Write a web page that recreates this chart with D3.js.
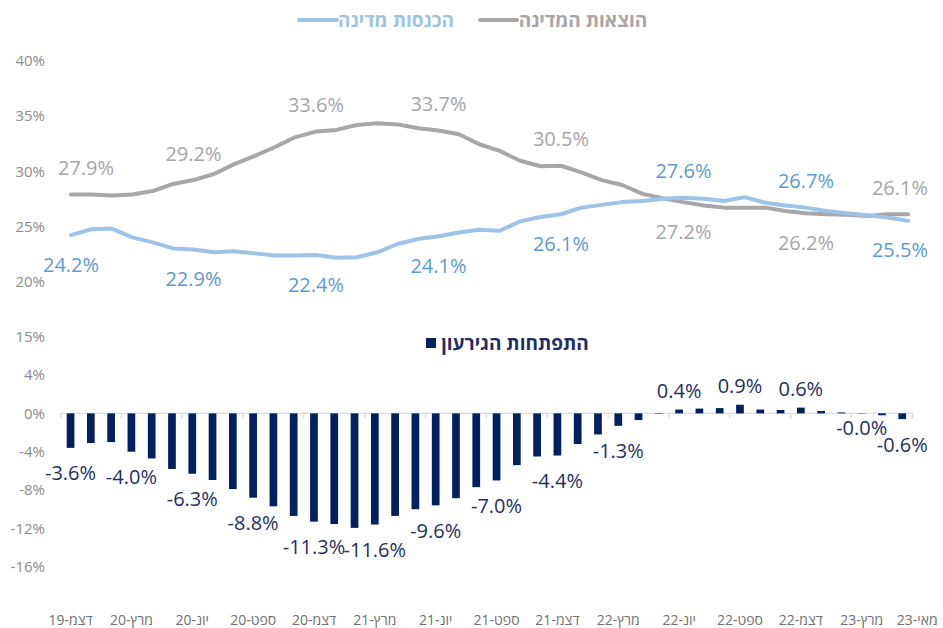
<!DOCTYPE html>
<html>
<head>
<meta charset="utf-8">
<script src="https://cdn.jsdelivr.net/npm/d3@7"></script>
<style>
  body { margin: 0; background: #fff; }
  text { font-family: 'Open Sans', 'Liberation Sans', sans-serif; }
</style>
</head>
<body>
<div class="chart"></div>
<script>
// categories (monthly, Dec-19 .. May-23)
const months = [
  'דצמ-19',
  'ינו-20','פבר-20','מרץ-20','אפר-20','מאי-20','יונ-20','יול-20','אוג-20','ספט-20','אוק-20','נוב-20','דצמ-20',
  'ינו-21','פבר-21','מרץ-21','אפר-21','מאי-21','יונ-21','יול-21','אוג-21','ספט-21','אוק-21','נוב-21','דצמ-21',
  'ינו-22','פבר-22','מרץ-22','אפר-22','מאי-22','יונ-22','יול-22','אוג-22','ספט-22','אוק-22','נוב-22','דצמ-22',
  'ינו-23','פבר-23','מרץ-23','אפר-23','מאי-23'
]

// state revenue, % of GDP
const revenue = [24.2, 24.75, 24.8, 24.0, 23.55, 23.0, 22.9, 22.65, 22.75, 22.55, 22.35, 22.35, 22.4,
  22.15, 22.2, 22.65, 23.4, 23.85, 24.1, 24.45, 24.7, 24.6, 25.45, 25.85, 26.1,
  26.7, 26.95, 27.2, 27.3, 27.5, 27.6, 27.5, 27.3, 27.65, 27.15, 26.9, 26.7,
  26.4, 26.2, 26.0, 25.8, 25.5]

// state expenditure, % of GDP
const expenses = [27.9, 27.9, 27.8, 27.9, 28.2, 28.85, 29.2, 29.75, 30.65, 31.4, 32.2, 33.1, 33.6,
  33.75, 34.2, 34.35, 34.25, 33.9, 33.7, 33.35, 32.45, 31.85, 30.95, 30.45, 30.5,
  29.9, 29.2, 28.75, 27.95, 27.55, 27.2, 26.9, 26.7, 26.7, 26.7, 26.4, 26.2,
  26.1, 26.05, 25.95, 26.1, 26.1]

// deficit development, % of GDP
const deficit = [-3.6, -3.1, -3.0, -4.0, -4.7, -5.8, -6.3, -6.95, -7.9, -8.8, -9.7, -10.7, -11.3,
  -11.55, -11.95, -11.6, -10.7, -10.0, -9.6, -8.85, -7.7, -7.0, -5.4, -4.5, -4.4,
  -3.2, -2.2, -1.3, -0.7, -0.05, 0.4, 0.5, 0.55, 0.9, 0.4, 0.35, 0.6,
  0.25, 0.1, -0.03, -0.2, -0.6]

const upperTicks = [20, 25, 30, 35, 40]
const lowerTicks = [-16, -12, -8, -4, 0, 4, 8]
const lowerTickLabels = ['-16%', '-12%', '-8%', '-4%', '0%', '4%', '15%']
const xTickLabels = ['דצמ-19','מרץ-20','יונ-20','ספט-20','דצמ-20','מרץ-21','יונ-21','ספט-21',
  'דצמ-21','מרץ-22','יונ-22','ספט-22','דצמ-22','מרץ-23','מאי-23']
const lineLabelIdx = [0, 6, 12, 18, 24, 30, 36, 41]
const barLabelIdx = [0, 3, 6, 9, 12, 15, 18, 21, 24, 27, 30, 33, 36, 39, 41]

const seriesNames = { revenue: 'הכנסות מדינה', expenses: 'הוצאות המדינה', deficit: 'התפתחות הגירעון' }

// Size of plot
const w = 943
const h = 628

const greyLine = '#a8a6a6'
const greyText = '#a6a6a6'
const blueLine = '#9dc3e6'
const blueText = '#5b9bd5'
const navy = '#002060'
const navyText = '#1f2f64'
const axisText = '#8c8c8c'

const svg = d3.select('.chart')
  .append('svg')
  .attr('width', w)
  .attr('height', h)
  .style('background', '#fff')

// Scales
const xUp = d3.scalePoint().domain(months).range([71, 908])
const yUp = d3.scaleLinear().domain([20, 40]).range([281.5, 61])

const xLow = d3.scaleBand().domain(months).range([60.4, 912.4]).padding(0)
const yLow = d3.scaleLinear().domain([-16, 8]).range([566.7, 336.7])

const pct = v => (v < 0 ? '-' : '') + Math.abs(v).toFixed(1) + '%'

// left axes (labels only)
const leftUp = svg.append('g')
  .attr('class', 'axis')
  .attr('transform', 'translate(45,0)')
  .call(d3.axisLeft(yUp).tickValues(upperTicks).tickSize(0).tickPadding(0).tickFormat(d => d + '%'))
leftUp.select('.domain').remove()

const leftLow = svg.append('g')
  .attr('class', 'axis')
  .attr('transform', 'translate(45,0)')
  .call(d3.axisLeft(yLow).tickValues(lowerTicks).tickSize(0).tickPadding(0)
    .tickFormat((d, i) => lowerTickLabels[i]))
leftLow.select('.domain').remove()

svg.selectAll('.axis text')
  .attr('fill', axisText)
  .style('font-size', '15px')
  .style('font-family', "'Open Sans', 'Liberation Sans', sans-serif")

// bottom category labels
const bottom = svg.append('g')
  .attr('class', 'xaxis')
  .attr('transform', 'translate(0,612)')
  .call(d3.axisBottom(xLow).tickValues(xTickLabels).tickSize(0).tickPadding(0))
bottom.select('.domain').remove()
bottom.selectAll('text')
  .attr('fill', '#707070')
  .attr('direction', 'rtl')
  .attr('dy', '0.95em')
  .style('font-size', '14px')
  .style('font-family', "'Open Sans', 'Liberation Sans', sans-serif")
  .attr('dx', d => d === 'מאי-23' ? 15 : 0)

// zero line of the deficit panel, with ticks every 3 months
const zeroY = yLow(0)
svg.append('line')
  .attr('x1', xLow.range()[0]).attr('x2', xLow.range()[1])
  .attr('y1', zeroY).attr('y2', zeroY)
  .attr('stroke', '#d9d9d9').attr('stroke-width', 1.3)
const tickIdx = d3.range(0, months.length + 1, 3).concat([months.length])
svg.append('g').selectAll('line')
  .data(tickIdx)
  .join('line')
  .attr('x1', i => xLow.range()[0] + i * xLow.bandwidth())
  .attr('x2', i => xLow.range()[0] + i * xLow.bandwidth())
  .attr('y1', zeroY).attr('y2', zeroY + 5)
  .attr('stroke', '#d9d9d9').attr('stroke-width', 1.3)

// bars
const barW = xLow.bandwidth() * 0.38
svg.append('g').selectAll('rect')
  .data(deficit)
  .join('rect')
  .attr('x', (d, i) => xLow(months[i]) + (xLow.bandwidth() - barW) / 2)
  .attr('y', d => Math.min(yLow(d), zeroY))
  .attr('width', barW)
  .attr('height', d => Math.abs(yLow(d) - zeroY))
  .attr('fill', navy)

const barLabelOffset = v => v >= 0 ? -19 : (Math.abs(v) < 0.1 ? 14 : 25)
svg.append('g').selectAll('text')
  .data(barLabelIdx)
  .join('text')
  .attr('x', i => xLow(months[i]) + xLow.bandwidth() / 2)
  .attr('y', i => yLow(deficit[i]) + barLabelOffset(deficit[i]))
  .attr('text-anchor', 'middle')
  .attr('dominant-baseline', 'central')
  .attr('fill', navyText)
  .style('font-size', '20px')
  .text(i => pct(deficit[i]))

// lines
const line = d3.line()
  .x((d, i) => xUp(months[i]))
  .y(d => yUp(d))

svg.append('path')
  .datum(expenses)
  .attr('d', line)
  .attr('fill', 'none')
  .attr('stroke', greyLine)
  .attr('stroke-width', 4)
  .attr('stroke-linejoin', 'round')
  .attr('stroke-linecap', 'round')

svg.append('path')
  .datum(revenue)
  .attr('d', line)
  .attr('fill', 'none')
  .attr('stroke', blueLine)
  .attr('stroke-width', 4)
  .attr('stroke-linejoin', 'round')
  .attr('stroke-linecap', 'round')

// line labels: the higher series at a point gets its label above, the lower one below
const lineLabels = []
lineLabelIdx.forEach(i => {
  lineLabels.push({ i, v: expenses[i], above: expenses[i] >= revenue[i], color: greyText, grey: true })
  lineLabels.push({ i, v: revenue[i], above: revenue[i] > expenses[i], color: blueText, grey: false })
})

svg.append('g').selectAll('text')
  .data(lineLabels)
  .join('text')
  .attr('x', d => xUp(months[d.i]))
  .attr('y', d => yUp(d.v) + (d.above ? -27 : 29))
  .attr('text-anchor', 'middle')
  .attr('dominant-baseline', 'central')
  .attr('fill', d => d.color)
  .style('font-size', '20px')
  .text(d => pct(d.v))
  .each(function(d) {
    // keep labels inside the chart area
    const half = this.getComputedTextLength() / 2
    let x = +d3.select(this).attr('x')
    if (d.grey && d.i === 0) x += 15
    x = Math.min(x, 928 - half)
    d3.select(this).attr('x', x)
  })

// legend, top
const legend = svg.append('g')
legend.append('line')
  .attr('x1', 299).attr('x2', 337).attr('y1', 20).attr('y2', 20)
  .attr('stroke', blueLine).attr('stroke-width', 4).attr('stroke-linecap', 'round')
legend.append('text')
  .attr('x', 396).attr('y', 20)
  .attr('direction', 'rtl')
  .attr('text-anchor', 'middle').attr('dominant-baseline', 'central')
  .attr('fill', blueLine)
  .style('font-size', '19px').style('font-weight', 'bold')
  .text(seriesNames.revenue)
legend.append('line')
  .attr('x1', 480).attr('x2', 517).attr('y1', 20).attr('y2', 20)
  .attr('stroke', greyLine).attr('stroke-width', 4).attr('stroke-linecap', 'round')
legend.append('text')
  .attr('x', 583).attr('y', 20)
  .attr('direction', 'rtl')
  .attr('text-anchor', 'middle').attr('dominant-baseline', 'central')
  .attr('fill', greyText)
  .style('font-size', '19px').style('font-weight', 'bold')
  .text(seriesNames.expenses)

// legend, deficit panel
legend.append('rect')
  .attr('x', 426).attr('y', 338).attr('width', 10).attr('height', 10)
  .attr('fill', navy)
legend.append('text')
  .attr('x', 515).attr('y', 343)
  .attr('direction', 'rtl')
  .attr('text-anchor', 'middle').attr('dominant-baseline', 'central')
  .attr('fill', navyText)
  .style('font-size', '19px').style('font-weight', 'bold')
  .text(seriesNames.deficit)
</script>
</body>
</html>
